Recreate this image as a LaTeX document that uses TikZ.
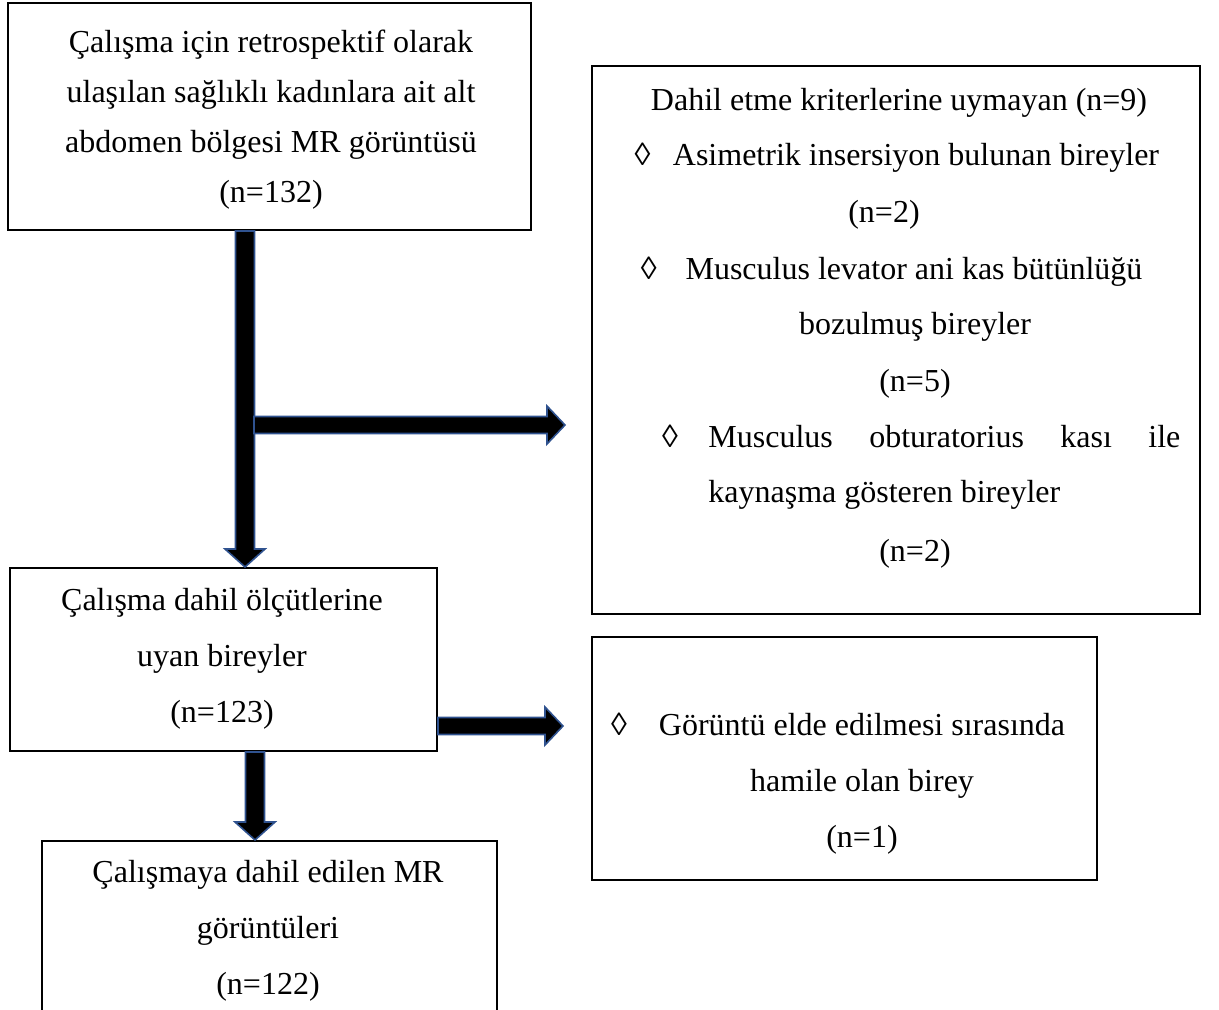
\documentclass[tikz,border=0pt]{standalone}
\usepackage{fontspec}
\setmainfont{Liberation Serif}
\usetikzlibrary{calc,fit}
\definecolor{arrowblue}{RGB}{47,82,143}
\tikzset{
  box/.style={draw, line width=1pt, inner sep=0pt},
  txt/.style={align=center, inner sep=0pt, font=\fontsize{16}{28}\selectfont},
  line/.style={anchor=base, inner sep=0pt, font=\fontsize{16}{28}\selectfont},
  fatarrow/.style={fill=black, draw=arrowblue, line width=0.8pt, line join=miter},
}
\newcommand\fatdown[2]{\draw[fatarrow] let \p1=(#1), \p2=(#2) in
  (\x1-4.75pt,\y1) -- (\x1-4.75pt,\y2+9pt) -- (\x1-10pt,\y2+9pt) -- (\x1,\y2)
  -- (\x1+10pt,\y2+9pt) -- (\x1+4.75pt,\y2+9pt) -- (\x1+4.75pt,\y1) -- cycle;}
\newcommand\fatright[2]{\draw[fatarrow] let \p1=(#1), \p2=(#2) in
  (\x1,\y1+4.25pt) -- (\x2-9pt,\y1+4.25pt) -- (\x2-9pt,\y1+9.5pt) -- (\x2,\y1)
  -- (\x2-9pt,\y1-9.5pt) -- (\x2-9pt,\y1-4.25pt) -- (\x1,\y1-4.25pt) -- cycle;}
\newcommand\bul[1]{\llap{◊\hspace{#1}}}
\begin{document}
\begin{tikzpicture}[x=0.5pt, y=-0.5pt]
\useasboundingbox (0,0) rectangle (1219,1009);
\clip (0,0) rectangle (1219,1009);

% boxes
\node[box, fit={(8,3) (531,230)}] (source) {};
\node[box, fit={(592,66) (1200,614)}] (excluded) {};
\node[box, fit={(10,568) (437,751)}] (eligible) {};
\node[box, fit={(592,637) (1097,880)}] (pregnant) {};
\node[box, fit={(42,841) (497,1040)}] (included) {};

% texts
\node[txt, font=\fontsize{16}{25}\selectfont] (sourcetext) at (271,120)
  {Çalışma için retrospektif olarak\\ulaşılan sağlıklı kadınlara ait alt\\abdomen bölgesi MR görüntüsü\\(n=132)};
\node[txt] (eligibletext) at (222,659) {Çalışma dahil ölçütlerine\\uyan bireyler\\(n=123)};
\node[txt] (pregnanttext) at (862,784) {\bul{1em}Görüntü elde edilmesi sırasında\\hamile olan birey\\(n=1)};
\node[txt] (includedtext) at (268,931) {Çalışmaya dahil edilen MR\\görüntüleri\\(n=122)};

\node[line] (ex1) at (899,110) {Dahil etme kriterlerine uymayan (n=9)};
\node[line] (ex2) at (916,165) {\bul{0.7em}Asimetrik insersiyon bulunan bireyler};
\node[line] (ex3) at (884,222) {(n=2)};
\node[line] (ex4) at (914,279) {\bul{0.9em}Musculus levator ani kas bütünlüğü};
\node[line] (ex5) at (915,334) {bozulmuş bireyler};
\node[line] (ex6) at (915,391) {(n=5)};
\node[line, anchor=base west] (ex7) at (708,447)
  {\bul{0.95em}\makebox[236pt]{Musculus\hfill obturatorius\hfill kası\hfill ile}};
\node[line, anchor=base west] (ex8) at (708,502) {kaynaşma gösteren bireyler};
\node[line] (ex9) at (915,561) {(n=2)};

% arrows
\coordinate (drop1) at (245,0);
\coordinate (drop2) at (255,0);
\coordinate (row2) at (0,726);
\coordinate (branch1) at (254,425);
\coordinate (tip1) at (565,425);
\coordinate (tip2) at (563,726);

\fatdown{source.south -| drop1}{eligible.north -| drop1}
\fatright{branch1}{tip1}
\fatright{eligible.east |- row2}{tip2}
\fatdown{eligible.south -| drop2}{included.north -| drop2}
\end{tikzpicture}
\end{document}
